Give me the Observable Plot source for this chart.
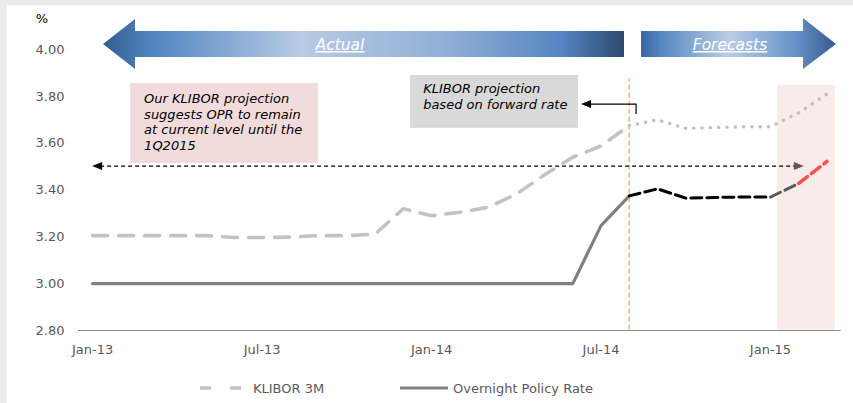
<!DOCTYPE html>
<html>
<head>
<meta charset="utf-8">
<script src="https://cdn.jsdelivr.net/npm/d3@7"></script>
<script src="https://cdn.jsdelivr.net/npm/@observablehq/plot@0.6"></script>
<style>
  html, body { margin: 0; padding: 0; background: #ebebeb; }
  #wrap { position: absolute; left: 0; top: 0; width: 853px; height: 403px; overflow: hidden; }
  #panel { position: absolute; left: 7px; top: 5px; width: 846px; height: 398px; background: #fff; }
  #chart { position: absolute; left: 0; top: 0; }
  #legend { position: absolute; left: 0; top: 376px; }
  svg { overflow: visible; }
</style>
</head>
<body>
<div id="wrap">
  <div id="panel"></div>
  <div id="chart"></div>
  <div id="legend"></div>
</div>
<script>
// ---------------- data ----------------
const monthLabels = ["Jan-13","Feb-13","Mar-13","Apr-13","May-13","Jun-13","Jul-13","Aug-13","Sep-13","Oct-13","Nov-13","Dec-13",
  "Jan-14","Feb-14","Mar-14","Apr-14","May-14","Jun-14","Jul-14","Aug-14","Sep-14","Oct-14","Nov-14","Dec-14",
  "Jan-15","Feb-15","Mar-15"];
const xTickMonths = ["Jan-13","Jul-13","Jan-14","Jul-14","Jan-15"];
const yTicks = [2.8, 3.0, 3.2, 3.4, 3.6, 3.8, 4.0];

// KLIBOR 3M, actual (Jan-13 .. Aug-14)
const kliborActual = [3.205,3.205,3.205,3.205,3.205,3.197,3.197,3.199,3.205,3.205,3.212,3.32,
  3.29,3.305,3.326,3.382,3.465,3.54,3.588,3.675];
// KLIBOR 3M projection based on forward rate (Aug-14 .. Mar-15)
const kliborForecast = [3.675,3.70,3.663,3.667,3.67,3.67,3.73,3.81];
// Overnight Policy Rate, actual (Jan-13 .. Aug-14)
const oprActual = [3.00,3.00,3.00,3.00,3.00,3.00,3.00,3.00,3.00,3.00,3.00,3.00,
  3.00,3.00,3.00,3.00,3.00,3.00,3.248,3.375];
// Implied OPR path (Aug-14 .. Mar-15)
const oprForecast = [3.375,3.405,3.365,3.368,3.37,3.37,3.428,3.522];

const forecastStart = "Aug-14";
const referenceLevel = 3.50;
const shadeFrom = 24.25, shadeTo = 26.3, shadeTop = 3.846;

// ---------------- build rows ----------------
const idx = m => monthLabels.indexOf(m);
const f0 = idx(forecastStart);
const rows = (arr, start) => arr.map((v, k) => ({i: start + k, v}));
const klA = rows(kliborActual, 0);
const klF = rows(kliborForecast, f0);
const opA = rows(oprActual, 0);
const opF = rows(oprForecast, f0);
const jan15 = idx("Jan-15"), feb15 = idx("Feb-15");
const opF1 = opF.filter(d => d.i <= jan15);
const opF2 = opF.filter(d => d.i >= jan15 && d.i <= feb15);
const opF3 = opF.filter(d => d.i >= feb15);

const chart = Plot.plot({
  width: 853,
  height: 362,
  marginLeft: 78,
  marginRight: 12.4,
  marginTop: 49,
  marginBottom: 32,
  style: {fontFamily: "DejaVu Sans", fontSize: "13px", color: "#595959", background: "transparent", overflow: "visible"},
  x: {domain: [-0.5, 26.5], ticks: xTickMonths.map(idx), tickFormat: i => monthLabels[i], tickSize: 0, tickPadding: 14, label: null},
  y: {domain: [2.8, 4.0], ticks: yTicks, tickFormat: d => d.toFixed(2), tickSize: 0, tickPadding: 14, label: null},
  marks: [
    Plot.rect([{x1: shadeFrom, x2: shadeTo, y1: 2.8, y2: shadeTop}], {x1: "x1", x2: "x2", y1: "y1", y2: "y2", fill: "#f9ebea"}),
    Plot.ruleX([f0], {y1: 2.8, y2: 3.876, stroke: "#fbbf8c", strokeWidth: 1.8, strokeDasharray: "5,3"}),
    Plot.ruleY([2.8], {stroke: "#8c8c8c", strokeWidth: 1.2}),
    Plot.line(klA, {x: "i", y: "v", stroke: "#c3c3c3", strokeWidth: 3.6, strokeDasharray: "15,11"}),
    Plot.line(klF, {x: "i", y: "v", stroke: "#c0c0c0", strokeWidth: 3.4, strokeDasharray: "0.1,8.2", strokeLinecap: "round"}),
    Plot.line(opA, {x: "i", y: "v", stroke: "#808080", strokeWidth: 3.2}),
    Plot.line(opF1, {x: "i", y: "v", stroke: "#000000", strokeWidth: 3, strokeDasharray: "11,5"}),
    Plot.line(opF2, {x: "i", y: "v", stroke: "#5a5a5a", strokeWidth: 3, strokeDasharray: "11,5"}),
    Plot.line(opF3, {x: "i", y: "v", stroke: "#ff5050", strokeWidth: 3.6, strokeDasharray: "11,5"})
  ]
});
document.getElementById("chart").appendChild(chart);

// ---------------- annotations ----------------
const sx = chart.scale("x").apply, sy = chart.scale("y").apply;
const svg = d3.select(chart);
const ann = svg.append("g").attr("font-family", "DejaVu Sans").attr("text-anchor", "start");

// "%" unit label
ann.append("text").attr("x", 42).attr("y", 23).attr("text-anchor", "middle").attr("font-size", 13).attr("fill", "#000").text("%");

// Banner arrows
const defs = svg.append("defs");
function grad(id, stops) {
  const g = defs.append("linearGradient").attr("id", id).attr("x1", "0").attr("x2", "1").attr("y1", "0").attr("y2", "0");
  stops.forEach(([o, c]) => g.append("stop").attr("offset", o).attr("stop-color", c));
}
grad("gActual", [[0, "#325d91"], [0.1, "#5487c3"], [0.38, "#b7cbe4"], [0.66, "#90afd6"], [0.88, "#5685c1"], [1, "#2c4870"]]);
grad("gFore", [[0, "#3a65a0"], [0.1, "#5586c2"], [0.45, "#b9cde5"], [0.8, "#6590c8"], [1, "#365a8b"]]);
ann.append("polygon").attr("points", "103,44 135,19 135,31 624,31 624,57 135,57 135,69").attr("fill", "url(#gActual)");
ann.append("polygon").attr("points", "641,31 803,31 803,18 836,44 803,69 803,57 641,57").attr("fill", "url(#gFore)");
ann.append("text").attr("x", 340).attr("y", 50).attr("text-anchor", "middle").attr("font-size", 15.5)
  .attr("font-style", "italic").attr("fill", "#fff").attr("text-decoration", "underline").text("Actual");
ann.append("text").attr("x", 730).attr("y", 50).attr("text-anchor", "middle").attr("font-size", 15.5)
  .attr("font-style", "italic").attr("fill", "#fff").attr("text-decoration", "underline").text("Forecasts");

// Pink note box
const nb = {x1: 1.345, x2: 8.0, y1: 3.855, y2: 3.513};
ann.append("rect").attr("x", sx(nb.x1)).attr("y", sy(nb.y1)).attr("width", sx(nb.x2) - sx(nb.x1)).attr("height", sy(nb.y2) - sy(nb.y1)).attr("fill", "#f2dcdb");
["Our KLIBOR projection", "suggests OPR to remain", "at current level until the", "1Q2015"].forEach((t, k) => {
  ann.append("text").attr("x", sx(nb.x1) + 14).attr("y", sy(nb.y1) + 20 + k * 15.7).attr("font-size", 13)
    .attr("font-style", "italic").attr("fill", "#000").text(t);
});

// Gray note box
const gb = {x1: 11.26, x2: 17.2, y1: 3.889, y2: 3.663};
ann.append("rect").attr("x", sx(gb.x1)).attr("y", sy(gb.y1)).attr("width", sx(gb.x2) - sx(gb.x1)).attr("height", sy(gb.y2) - sy(gb.y1)).attr("fill", "#d9d9d9");
["KLIBOR projection", "based on forward rate"].forEach((t, k) => {
  ann.append("text").attr("x", sx(gb.x1) + 13).attr("y", sy(gb.y1) + 18.5 + k * 16).attr("font-size", 13)
    .attr("font-style", "italic").attr("fill", "#000").text(t);
});
// connector from Sep-14 forecast to gray box
const cx = sx(19.26), cyTop = sy(3.765), cyBot = sy(3.722), tipX = sx(17.31);
ann.append("path").attr("d", `M${cx},${cyBot}V${cyTop}H${tipX + 9}`).attr("fill", "none").attr("stroke", "#000").attr("stroke-width", 1.2);
ann.append("path").attr("d", `M${tipX},${cyTop}l10,-4v8z`).attr("fill", "#000");

// Dashed double arrow at the reference level
const ry = sy(referenceLevel), lx = sx(0), rx = sx(25.2);
ann.append("line").attr("x1", lx + 8).attr("x2", rx - 9).attr("y1", ry).attr("y2", ry)
  .attr("stroke", "#000").attr("stroke-width", 1.1).attr("stroke-dasharray", "4,3");
ann.append("path").attr("d", `M${lx},${ry}l10,-4v8z`).attr("fill", "#000");
ann.append("path").attr("d", `M${rx},${ry}l-10,-4v8z`).attr("fill", "#5a5a5a");

// ---------------- legend ----------------
const lg = d3.select("#legend").append("svg").attr("width", 853).attr("height", 24)
  .attr("font-family", "DejaVu Sans").attr("font-size", 13);
lg.append("line").attr("x1", 200).attr("x2", 245).attr("y1", 12).attr("y2", 12)
  .attr("stroke", "#c3c3c3").attr("stroke-width", 3.6).attr("stroke-dasharray", "11,19");
lg.append("text").attr("x", 253).attr("y", 16.5).attr("fill", "#595959").text("KLIBOR 3M");
lg.append("line").attr("x1", 400).attr("x2", 448).attr("y1", 12).attr("y2", 12)
  .attr("stroke", "#808080").attr("stroke-width", 3.2);
lg.append("text").attr("x", 453).attr("y", 16.5).attr("fill", "#595959").text("Overnight Policy Rate");
</script>
</body>
</html>
